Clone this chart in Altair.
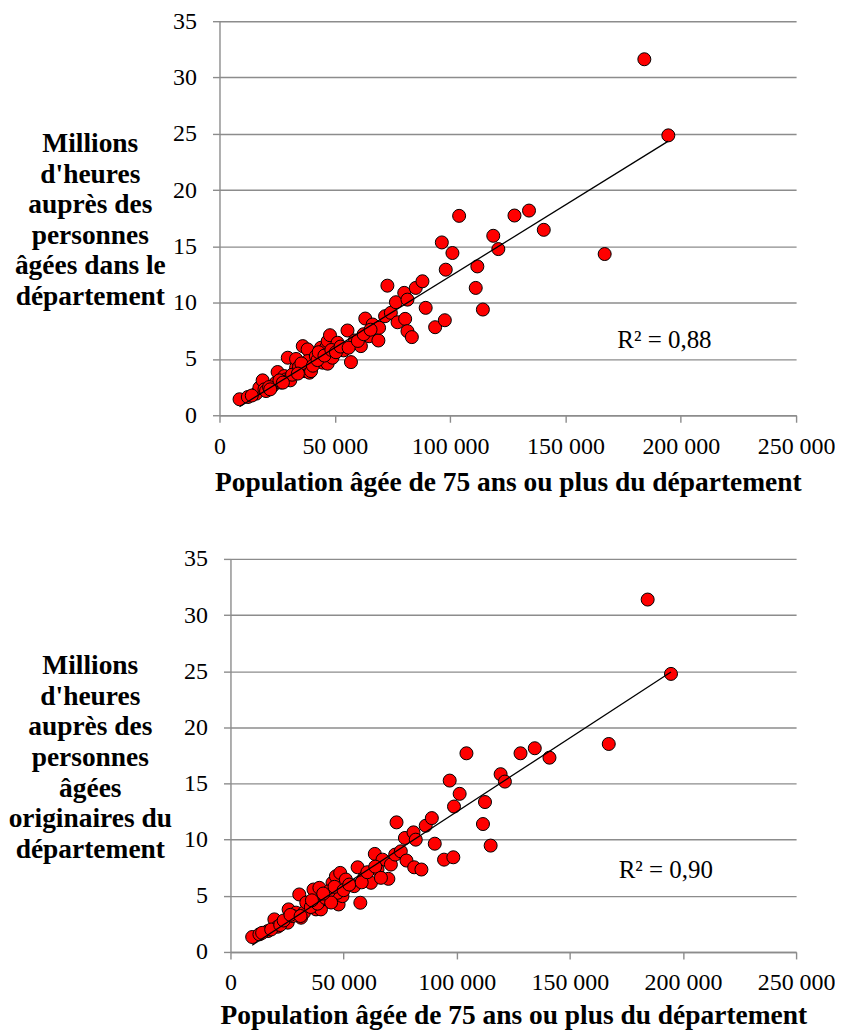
import altair as alt
import pandas as pd

# ---------------- data ----------------
pop_top = [8700, 12300, 15900, 17300, 18700, 19500, 20200, 23100, 24500, 25200,
           26700, 28100, 28900, 29600, 30300, 30700, 33200, 33200, 36100, 36800,
           37500, 38200, 38200, 39000, 39700, 41800, 44000, 44700, 46200, 46900,
           46900, 47900, 49000, 51200, 53800, 55500, 57000, 58700, 61300, 63200,
           64900, 66400, 68900, 69200, 71800, 72800, 74300, 76500, 77200, 80100,
           80500, 81500, 81500, 83400, 85100, 88000, 89400, 93500, 96400, 97700,
           98100, 101000, 103900, 111100, 111800, 114200, 118700, 120900, 127900, 134200,
           140600, 167000, 184200, 194600, 21500, 26000, 31500, 34500, 35500, 40500,
           42500, 43000, 45500, 48500, 50500, 52500, 56000, 60000, 62500, 65500,
           34000, 27500, 22000, 14000]
hours_top = [1.42, 1.62, 1.92, 2.45, 3.10, 2.30, 2.15, 2.60, 2.90, 3.84,
             2.90, 3.48, 3.19, 5.11, 3.19, 3.10, 4.22, 5.00, 6.14, 3.92,
             3.92, 5.85, 4.81, 3.78, 3.92, 5.25, 6.00, 4.67, 6.00, 6.58,
             4.58, 7.11, 5.11, 6.44, 5.76, 7.53, 4.72, 6.64, 6.14, 8.59,
             7.02, 8.06, 6.64, 7.77, 8.80, 11.51, 9.10, 10.04, 8.26, 10.87,
             8.56, 10.27, 7.47, 6.94, 11.31, 11.90, 9.54, 7.82, 15.35, 8.44,
             12.93, 14.41, 17.71, 11.31, 13.22, 9.39, 15.94, 14.76, 17.74, 18.18,
             16.47, 14.32, 31.62, 24.86, 2.50, 3.10, 3.60, 4.30, 4.60, 4.40,
             4.90, 5.60, 5.30, 5.80, 5.60, 6.10, 6.00, 6.60, 7.20, 7.60,
             3.70, 2.90, 2.30, 1.75]

pop_bot = [9600, 12800, 16500, 19400, 20900, 25300, 25700, 29000, 31200, 30400,
           34100, 36700, 39300, 37800, 40000, 40700, 45100, 46600, 48500, 47800,
           49500, 51000, 47300, 56200, 57400, 54700, 59100, 62100, 63800, 67200,
           65000, 69800, 70900, 73400, 72800, 75300, 77100, 80900, 81900, 77800,
           81200, 84400, 86300, 89000, 90300, 94400, 98500, 96900, 101300, 98800,
           104300, 112500, 111600, 115000, 119400, 121300, 128200, 134500, 141000, 167200,
           184400, 194700, 14000, 18000, 22000, 23500, 27500, 32500, 33500, 35500,
           38500, 42000, 43500, 44500, 46000, 50000, 52500, 58000, 60500, 64000,
           66500, 26500, 41000, 36000, 31000]
hours_bot = [1.33, 1.57, 1.86, 2.90, 2.25, 2.61, 3.79, 3.50, 3.05, 5.12,
             4.08, 5.56, 5.71, 3.79, 3.79, 4.68, 6.16, 6.74, 7.04, 4.23,
             4.97, 6.45, 5.27, 7.54, 4.38, 5.86, 6.60, 6.16, 8.73, 8.22,
             7.34, 6.51, 7.78, 11.54, 8.67, 8.96, 10.15, 10.65, 10.00, 8.14,
             7.54, 7.34, 11.24, 11.92, 9.64, 8.22, 8.43, 15.26, 14.08, 12.95,
             17.69, 13.35, 11.39, 9.47, 15.83, 15.17, 17.69, 18.14, 17.30, 18.52,
             31.38, 24.76, 1.70, 2.00, 2.40, 2.80, 3.20, 3.50, 4.40, 4.00,
             4.30, 4.80, 5.40, 4.40, 5.80, 5.50, 6.00, 6.20, 7.10, 7.60,
             6.60, 3.30, 5.20, 4.60, 3.20]

x_ticks = [0, 50000, 100000, 150000, 200000, 250000]
y_ticks = [0, 5, 10, 15, 20, 25, 30, 35]

x_title = "Population âgée de 75 ans ou plus du département"
y_title_top = ["Millions", "d'heures", "auprès des", "personnes", "âgées dans le", "département"]
y_title_bot = ["Millions", "d'heures", "auprès des", "personnes", "âgées", "originaires du", "département"]
r2_top = "R² = 0,88"
r2_bot = "R² = 0,90"

FONT = "Liberation Serif"
GRAY = "#8c8c8c"


def panel(pop, hours, y_title, r2, r2_pos, x_range, y_offset, title_x, title_y,
          x_title_y, height):
    df = pd.DataFrame({"pop": pop, "hours": hours})
    xs = alt.Scale(domain=[0, 250000], range=x_range, nice=False, zero=True)
    ys = alt.Scale(domain=[0, 35], nice=False)
    x_axis = alt.Axis(values=x_ticks, grid=False, labelFlush=False,
                      labelExpr="replace(format(datum.value, ','), ',', ' ')",
                      title=x_title, titleY=x_title_y, titleBaseline="alphabetic",
                      labelPadding=12)
    y_axis = alt.Axis(values=y_ticks, grid=True, labelPadding=16,
                      title=y_title, titleAngle=0, titleAlign="center",
                      titleBaseline="top", titleX=title_x, titleY=title_y,
                      titleLineHeight=30.7, offset=y_offset)
    base = alt.Chart(df)
    pts = base.mark_circle(size=170, color="#ff0000", stroke="#000000",
                           strokeWidth=1, opacity=1).encode(
        x=alt.X("pop:Q", scale=xs, axis=x_axis),
        y=alt.Y("hours:Q", scale=ys, axis=y_axis),
    )
    line = base.transform_regression("pop", "hours").mark_line(
        color="#000000", strokeWidth=1.3).encode(
        x=alt.X("pop:Q", scale=xs),
        y=alt.Y("hours:Q", scale=ys),
    )
    lab = alt.Chart(pd.DataFrame({"t": [r2], "x": [r2_pos[0]], "y": [r2_pos[1]]})).mark_text(
        align="left", baseline="middle", font=FONT, fontSize=25, color="#000000").encode(
        x=alt.X("x:Q", scale=xs), y=alt.Y("y:Q", scale=ys), text="t:N")
    return alt.layer(pts, line, lab).properties(width=578, height=height)


top = panel(pop_top, hours_top, y_title_top, r2_top, (172500, 6.7),
            [0, 578], 0, -130, 108.5, 75, 395)
bot = panel(pop_bot, hours_bot, y_title_bot, r2_bot, (171600, 7.3),
            [11, 578], -11, -141, 93, 72, 394)

chart = alt.vconcat(top, bot, spacing=51).properties(
    padding={"left": 0, "top": 0, "right": 0, "bottom": 0}
).configure_view(stroke=None).configure_axis(
    domainColor=GRAY, tickColor=GRAY, gridColor=GRAY, gridOpacity=1,
    domainWidth=1.4, tickWidth=1.4, gridWidth=1.4, tickSize=7,
    labelFont=FONT, labelFontSize=24, labelColor="#000000",
    titleFont=FONT, titleFontSize=27.5, titleFontWeight="bold", titleColor="#000000",
).configure_text(font=FONT)

chart.save("out.html", embed_options={"renderer": "svg", "actions": False})
